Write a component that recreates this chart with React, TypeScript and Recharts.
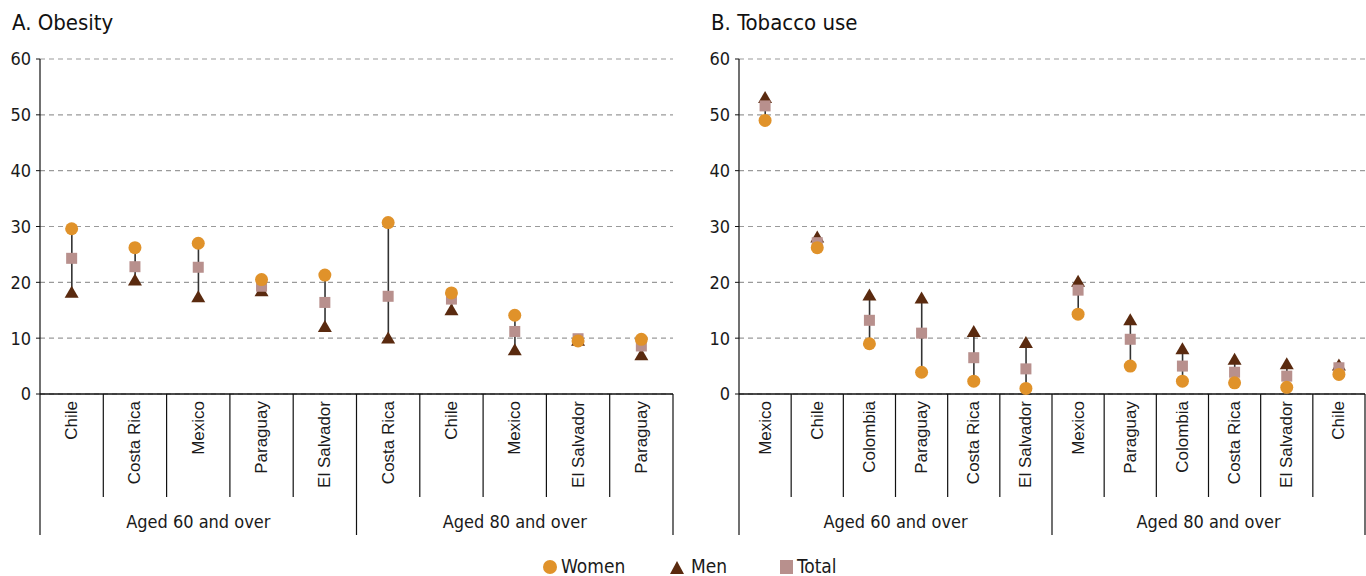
import React from 'react';
import { ComposedChart, Bar, Line, XAxis, YAxis, CartesianGrid } from 'recharts';

// Panel A: obesity (%)
const obesityCountries = ['Chile', 'Costa Rica', 'Mexico', 'Paraguay', 'El Salvador', 'Costa Rica', 'Chile', 'Mexico', 'El Salvador', 'Paraguay'];
const obesityAges = ['Aged 60 and over', 'Aged 60 and over', 'Aged 60 and over', 'Aged 60 and over', 'Aged 60 and over', 'Aged 80 and over', 'Aged 80 and over', 'Aged 80 and over', 'Aged 80 and over', 'Aged 80 and over'];
const obesityWomen = [29.6, 26.2, 27.0, 20.5, 21.3, 30.7, 18.1, 14.1, 9.5, 9.8];
const obesityMen = [18.3, 20.5, 17.5, 18.6, 12.2, 10.1, 15.2, 8.0, 9.7, 7.1];
const obesityTotal = [24.3, 22.8, 22.7, 19.3, 16.4, 17.5, 17.0, 11.2, 9.9, 8.6];

// Panel B: tobacco use (%)
const tobaccoCountries = ['Mexico', 'Chile', 'Colombia', 'Paraguay', 'Costa Rica', 'El Salvador', 'Mexico', 'Paraguay', 'Colombia', 'Costa Rica', 'El Salvador', 'Chile'];
const tobaccoAges = ['Aged 60 and over', 'Aged 60 and over', 'Aged 60 and over', 'Aged 60 and over', 'Aged 60 and over', 'Aged 60 and over', 'Aged 80 and over', 'Aged 80 and over', 'Aged 80 and over', 'Aged 80 and over', 'Aged 80 and over', 'Aged 80 and over'];
const tobaccoWomen = [49.0, 26.2, 9.0, 3.9, 2.3, 1.0, 14.3, 5.0, 2.3, 2.0, 1.2, 3.5];
const tobaccoMen = [53.2, 28.2, 17.8, 17.3, 11.3, 9.3, 20.3, 13.4, 8.2, 6.3, 5.5, 5.3];
const tobaccoTotal = [51.6, 27.1, 13.2, 10.9, 6.5, 4.5, 18.6, 9.8, 5.0, 3.9, 3.2, 4.7];

const yTicks = [0, 10, 20, 30, 40, 50, 60];

const WOMEN = '#E0922A';
const MEN = '#5A2A0F';
const TOTAL = '#B8908D';
const CONDENSED = "'Liberation Sans Narrow', 'DejaVu Sans Condensed', 'Arial Narrow', sans-serif";
const REGULAR = "'Liberation Sans', Arial, sans-serif";

const build = (names: string[], ages: string[], w: number[], m: number[], t: number[]) =>
  names.map((name, i) => ({
    name,
    age: ages[i],
    women: w[i],
    men: m[i],
    total: t[i],
    range: [Math.min(w[i], m[i], t[i]), Math.max(w[i], m[i], t[i])],
  }));

const obesityData = build(obesityCountries, obesityAges, obesityWomen, obesityMen, obesityTotal);
const tobaccoData = build(tobaccoCountries, tobaccoAges, tobaccoWomen, tobaccoMen, tobaccoTotal);

function CategoryTick(props: any) {
  const { x, y, payload, index, groups, fallbackHalf } = props;
  const half = payload?.offset || fallbackHalf;
  const g = groups[index];
  const first = groups.indexOf(g);
  const last = groups.lastIndexOf(g);
  const isGroupStart = index === first;
  const isLast = index === groups.length - 1;
  const mid = (first + last) / 2;
  const gx = x + (mid - index) * 2 * half;
  return (
    <g>
      <line x1={x - half} x2={x - half} y1={y} y2={y + (isGroupStart ? 141 : 103)} stroke="#111" strokeWidth={1.2} />
      {isLast && <line x1={x + half} x2={x + half} y1={y} y2={y + 141} stroke="#111" strokeWidth={1.2} />}
      <text
        x={x}
        y={y + 7}
        transform={`rotate(-90 ${x} ${y + 7})`}
        textAnchor="end"
        dominantBaseline="central"
        fontFamily={REGULAR}
        fontSize={17}
        fill="#1a1a1a"
      >
        {payload.value}
      </text>
      {index === Math.floor(mid) && (
        <text x={gx} y={y + 134} textAnchor="middle" fontFamily={CONDENSED} fontSize={18} fill="#1a1a1a">
          {g}
        </text>
      )}
    </g>
  );
}

const circleDot = (p: any) => <circle key={`w-${p.index}`} cx={p.cx} cy={p.cy} r={6.5} fill={WOMEN} />;
const triangleDot = (p: any) => (
  <polygon key={`m-${p.index}`} points={`${p.cx - 7},${p.cy + 6} ${p.cx + 7},${p.cy + 6} ${p.cx},${p.cy - 6}`} fill={MEN} />
);
const squareDot = (p: any) => <rect key={`t-${p.index}`} x={p.cx - 5.5} y={p.cy - 5.5} width={11} height={11} fill={TOTAL} />;

const rangeShape = (p: any) => (
  <line x1={p.x + p.width / 2} x2={p.x + p.width / 2} y1={p.y} y2={p.y + p.height} stroke="#333" strokeWidth={1.6} />
);

function Panel({ data, groups, width, marginLeft, marginRight, half }: any) {
  return (
    <ComposedChart width={width} height={545} data={data} margin={{ top: 59, right: marginRight, left: marginLeft, bottom: 5 }}>
      <CartesianGrid horizontal vertical={false} stroke="#9a9a9a" strokeDasharray="5 4" strokeWidth={1.2} />
      <XAxis
        dataKey="name"
        interval={0}
        height={146}
        tickSize={0}
        tickMargin={0}
        axisLine={{ stroke: '#111', strokeWidth: 1.6 }}
        tick={<CategoryTick groups={groups} fallbackHalf={half} />}
      />
      <YAxis
        domain={[0, 60]}
        ticks={yTicks}
        width={30}
        tickSize={4}
        tickMargin={5}
        axisLine={{ stroke: '#111', strokeWidth: 1.2 }}
        tickLine={{ stroke: '#111' }}
        tick={{ fill: '#1a1a1a', fontSize: 18, fontFamily: CONDENSED }}
      />
      <Bar dataKey="range" shape={rangeShape} isAnimationActive={false} />
      <Line dataKey="men" stroke="none" dot={triangleDot} activeDot={false} isAnimationActive={false} />
      <Line dataKey="total" stroke="none" dot={squareDot} activeDot={false} isAnimationActive={false} />
      <Line dataKey="women" stroke="none" dot={circleDot} activeDot={false} isAnimationActive={false} />
    </ComposedChart>
  );
}

const titleStyle: React.CSSProperties = {
  position: 'absolute',
  top: 10,
  fontFamily: CONDENSED,
  fontSize: 22,
  color: '#111',
  whiteSpace: 'nowrap',
};

const legendText: React.CSSProperties = {
  position: 'absolute',
  top: 555,
  fontFamily: CONDENSED,
  fontSize: 19,
  color: '#1a1a1a',
  whiteSpace: 'nowrap',
};

export default function App() {
  return (
    <div style={{ position: 'absolute', left: 0, top: 0, width: 1366, height: 576, background: '#fff', overflow: 'hidden' }}>
      <div style={{ ...titleStyle, left: 12 }}>A. Obesity</div>
      <div style={{ ...titleStyle, left: 711 }}>B. Tobacco use</div>
      <div style={{ position: 'absolute', left: 0, top: 0 }}>
        <Panel data={obesityData} groups={obesityAges} width={690} marginLeft={10} marginRight={17} half={31.65} />
      </div>
      <div style={{ position: 'absolute', left: 690, top: 0 }}>
        <Panel data={tobaccoData} groups={tobaccoAges} width={676} marginLeft={19} marginRight={1} half={26.1} />
      </div>
      <svg style={{ position: 'absolute', left: 0, top: 0 }} width={1366} height={576} pointerEvents="none">
        <circle cx={550} cy={567} r={7} fill={WOMEN} />
        <polygon points="670,574 684,574 677,561" fill={MEN} />
        <rect x={780} y={560} width={13} height={14} fill={TOTAL} />
      </svg>
      <div style={{ ...legendText, left: 561 }}>Women</div>
      <div style={{ ...legendText, left: 691 }}>Men</div>
      <div style={{ ...legendText, left: 797 }}>Total</div>
    </div>
  );
}
